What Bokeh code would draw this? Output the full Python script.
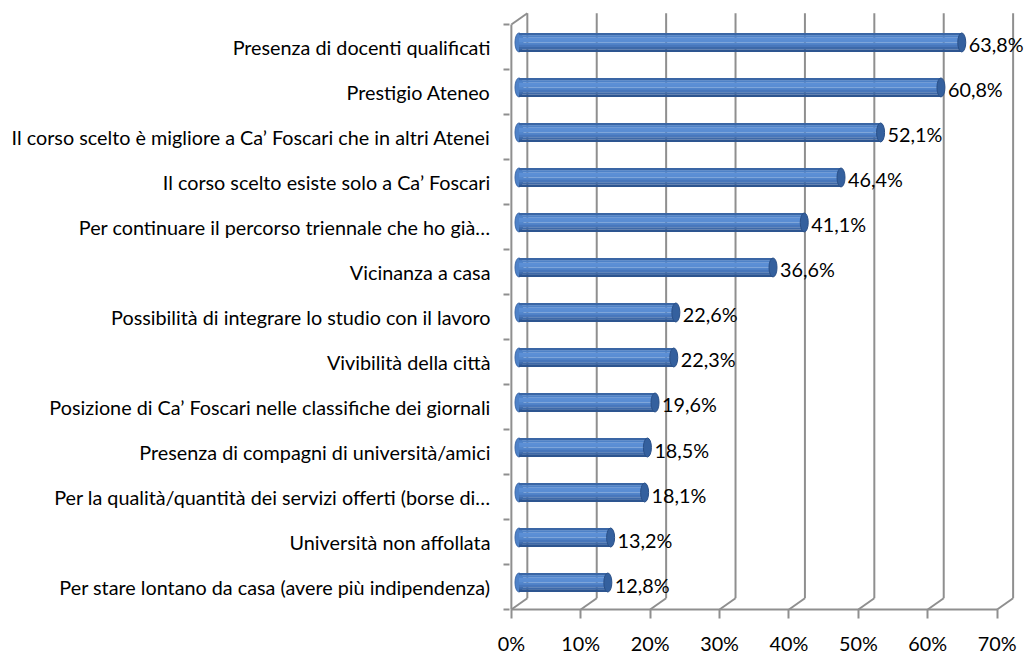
from bokeh.plotting import figure
from bokeh.models import Range1d, LinearAxis, FixedTicker
from bokeh.embed import file_html
from bokeh.resources import INLINE
from bokeh.core.properties import value

categories = [
    "Presenza di docenti qualificati",
    "Prestigio Ateneo",
    "Il corso scelto è migliore a Ca’ Foscari che in altri Atenei",
    "Il corso scelto esiste solo a Ca’ Foscari",
    "Per continuare il percorso triennale che ho già…",
    "Vicinanza a casa",
    "Possibilità di integrare lo studio con il lavoro",
    "Vivibilità della città",
    "Posizione di Ca’ Foscari nelle classifiche dei giornali",
    "Presenza di compagni di università/amici",
    "Per la qualità/quantità dei servizi offerti (borse di…",
    "Università non affollata",
    "Per stare lontano da casa (avere più indipendenza)",
]
percentages = [63.8, 60.8, 52.1, 46.4, 41.1, 36.6, 22.6, 22.3, 19.6, 18.5, 18.1, 13.2, 12.8]
x_ticks = [0, 10, 20, 30, 40, 50, 60, 70]
x_tick_labels = ["0%", "10%", "20%", "30%", "40%", "50%", "60%", "70%"]

FONT = "Lato"
FSIZE = "19.8px"
GRID = "#8f8f8f"

n = len(categories)
# 3D depth offsets (data units)
FRONT_DX, BACK_DX = -1.1, 1.2
BACK_DY, BAR_DY = 0.25, 0.1

x_start, x_end = -1.37, 72.84
p = figure(width=1024, height=657,
           x_range=Range1d(x_start, x_end), y_range=Range1d(-0.044, 13.31),
           output_backend="svg", toolbar_location=None,
           x_axis_location=None, y_axis_location=None,
           min_border_left=509, min_border_right=0, min_border_top=10, min_border_bottom=43,
           outline_line_color=None, background_fill_color="white", border_fill_color="white")
p.xgrid.visible = False
p.ygrid.visible = False
p.extra_x_ranges = {"front": Range1d(x_start - FRONT_DX, x_end - FRONT_DX)}

positions = [n - i - 0.5 for i in range(n)]
bar_y = [pos + BAR_DY for pos in positions]

# back wall gridlines
p.segment(x0=[t + BACK_DX for t in x_ticks], y0=BACK_DY,
          x1=[t + BACK_DX for t in x_ticks], y1=n + BACK_DY,
          line_color=GRID, line_width=2)
# floor diagonals
p.segment(x0=[t + FRONT_DX for t in x_ticks], y0=0,
          x1=[t + BACK_DX for t in x_ticks], y1=BACK_DY,
          line_color=GRID, line_width=2)
# front axis line
p.segment(x0=[x_ticks[0] + FRONT_DX], y0=[0], x1=[x_ticks[-1] + FRONT_DX], y1=[0],
          line_color=GRID, line_width=2)
# left wall front edge and top diagonal
p.segment(x0=[FRONT_DX, FRONT_DX], y0=[0, n], x1=[FRONT_DX, BACK_DX], y1=[n, n + BACK_DY],
          line_color=GRID, line_width=2)

# bars: cylinder-like gradient built from strips
BH = 0.42
colors = ["#3a66a5", "#4e82c8", "#5b8fd6", "#5a8dd3", "#5285cb", "#4877bc", "#3d69a9", "#2d5590"]
ns = len(colors)
sh = BH / ns
p.ellipse(x=[0] * n, y=bar_y, width=8, height=19, width_units="screen", height_units="screen",
          fill_color="#4f82c8", line_color="#3d69a9", line_width=1)
for j, c in enumerate(colors):
    p.hbar(y=[b + BH / 2 - (j + 0.5) * sh for b in bar_y], left=0, right=percentages,
           height=sh * 1.05, fill_color=c, line_color=None)
p.ellipse(x=percentages, y=bar_y, width=8, height=19, width_units="screen", height_units="screen",
          fill_color="#34609e", line_color="#2a5088", line_width=1)

# value labels
value_labels = [f"{v:.1f}".replace(".", ",") + "%" for v in percentages]
p.text(x=percentages, y=bar_y, text=value_labels, x_offset=7, y_offset=2,
       text_baseline="middle", text_align="left",
       text_font=value(FONT), text_font_size=FSIZE, text_color="black")

# category axis (left)
yaxis = LinearAxis(ticker=FixedTicker(ticks=positions, minor_ticks=list(range(n + 1))),
                   major_label_overrides={pos: cat for pos, cat in zip(positions, categories)})
yaxis.axis_line_color = None
yaxis.major_tick_line_color = None
yaxis.major_tick_out = 0
yaxis.major_tick_in = 0
yaxis.minor_tick_out = 6
yaxis.minor_tick_in = 0
yaxis.minor_tick_line_color = GRID
yaxis.minor_tick_line_width = 2
yaxis.major_label_standoff = 13
yaxis.major_label_text_font = FONT
yaxis.major_label_text_font_size = FSIZE
yaxis.major_label_text_color = "black"
p.add_layout(yaxis, "left")

# percentage axis (below, front plane)
xaxis = LinearAxis(x_range_name="front", ticker=FixedTicker(ticks=x_ticks, minor_ticks=[]),
                   major_label_overrides={t: lab for t, lab in zip(x_ticks, x_tick_labels)})
xaxis.axis_line_color = None
xaxis.major_tick_line_color = GRID
xaxis.major_tick_line_width = 2
xaxis.major_tick_out = 7
xaxis.major_tick_in = 2
xaxis.minor_tick_out = 0
xaxis.major_label_standoff = 12
xaxis.major_label_text_font = FONT
xaxis.major_label_text_font_size = FSIZE
xaxis.major_label_text_color = "black"
p.add_layout(xaxis, "below")

open("out.html", "w").write(file_html(p, INLINE))
